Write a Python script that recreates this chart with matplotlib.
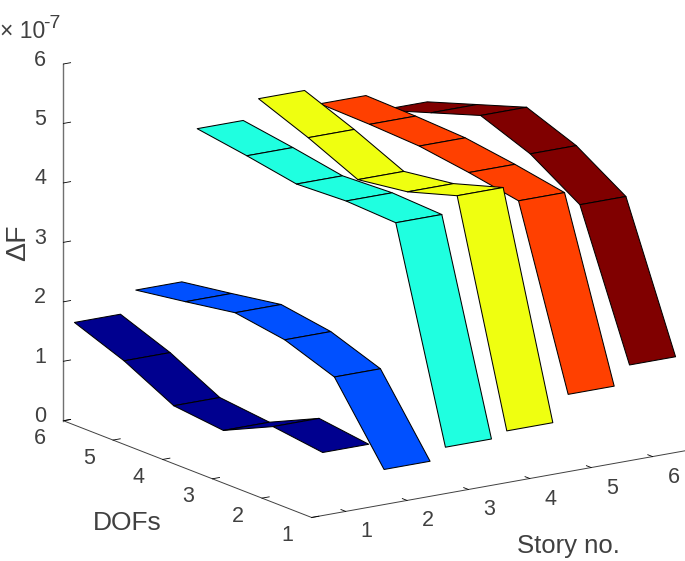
import numpy as np
import matplotlib
matplotlib.use("Agg")
import matplotlib.pyplot as plt
from mpl_toolkits.mplot3d.art3d import Poly3DCollection
from mpl_toolkits.mplot3d import proj3d

plt.rcParams['font.family'] = ['Liberation Sans', 'DejaVu Sans']

stories = [1, 2, 3, 4, 5, 6]
dofs = [1, 2, 3, 4, 5, 6]
z_ticks = [0, 1, 2, 3, 4, 5, 6]

# delta F in units of 1e-7, one list per story, DOF 1 to 6
story1 = [1.06, 1.17, 0.78, 0.87, 1.30, 1.62]
story2 = [0.59, 1.82, 2.12, 2.25, 2.11, 1.98]
story3 = [0.78, 4.23, 4.27, 4.23, 4.38, 4.51]
story4 = [0.87, 4.50, 4.24, 4.12, 4.50, 4.83]
story5 = [1.30, 4.23, 4.38, 4.50, 4.54, 4.56]
story6 = [1.61, 3.98, 4.51, 4.83, 4.55, 4.27]
values = [story1, story2, story3, story4, story5, story6]

colors = ["#00008f", "#0050ff", "#1fffe0", "#efff10", "#ff4000", "#800000"]
width = 0.75
text_col = "#404040"
x_lo = 0.445

fig = plt.figure(figsize=(6.85, 5.61), dpi=100)
ax = fig.add_axes([0.0137, -0.1103, 1.0394, 1.2692], projection='3d', proj_type='ortho')
ax.view_init(elev=15.3, azim=235.9)
ax.set_box_aspect((453, 443, 370))

quads = []
face_cols = []
for s, vals, col in zip(stories, values, colors):
    for k in range(len(dofs) - 1):
        quads.append([(s - width / 2, dofs[k], vals[k]),
                      (s + width / 2, dofs[k], vals[k]),
                      (s + width / 2, dofs[k + 1], vals[k + 1]),
                      (s - width / 2, dofs[k + 1], vals[k + 1])])
        face_cols.append(col)
ax.add_collection3d(Poly3DCollection(quads, facecolors=face_cols, edgecolors="black", linewidths=0.75))

ax.set_xlim(x_lo, 6.555, view_margin=0)
ax.set_ylim(1, 6, view_margin=0)
ax.set_zlim(0, 6, view_margin=0)
ax.set_xticks(stories)
ax.set_yticks(dofs)
ax.set_zticks(z_ticks)
ax.set_xticklabels([])
ax.set_yticklabels([])
ax.set_zticklabels([])
ax.grid(False)
for axis in (ax.xaxis, ax.yaxis, ax.zaxis):
    axis.set_pane_color((1, 1, 1, 0))
    axis.pane.set_edgecolor("none")
    axis.line.set_color("#404040")
    axis.line.set_linewidth(0.7)
    axis._axinfo['tick']['inward_factor'] = 0
    axis._axinfo['tick']['outward_factor'] = 0.24
    axis._axinfo['tick']['linewidth'] = {True: 0.6, False: 0.6}
    axis._axinfo['tick']['color'] = "#404040"
ax.zaxis.line.set_color("#707070")
ax.zaxis.line.set_linewidth(1.0)


# tick labels sit off the box, matlab style
def tick_label(x, y, z, txt):
    px, py, _ = proj3d.proj_transform(x, y, z, ax.get_proj())
    ax.text2D(px, py, txt, transform=ax.transData, fontsize=15.5, color=text_col,
              ha='center', va='center', clip_on=False)


for s in stories:
    tick_label(s, 1 - 0.423, -0.207, str(s))
for d in dofs:
    tick_label(x_lo - 0.39, d, -0.23, str(d))
for z in z_ticks:
    tick_label(x_lo, 6 + 0.464, z - 0.084, str(z))

fig.text(568 / 685, 1 - 546 / 561, "Story no.", fontsize=18.5, color=text_col, ha='center', va='center')
fig.text(127 / 685, 1 - 523 / 561, "DOFs", fontsize=19, color=text_col, ha='center', va='center')
fig.text(18 / 685, 1 - 243 / 561, "ΔF", fontsize=20.5, color=text_col, rotation=90, ha='center', va='center')
fig.text(0 / 685, 1 - 38 / 561, "× 10", fontsize=16.5, color=text_col, ha='left', va='baseline')
fig.text(43 / 685, 1 - 28 / 561, "-7", fontsize=14, color=text_col, ha='left', va='baseline')

fig.savefig("out.png", dpi=100)
